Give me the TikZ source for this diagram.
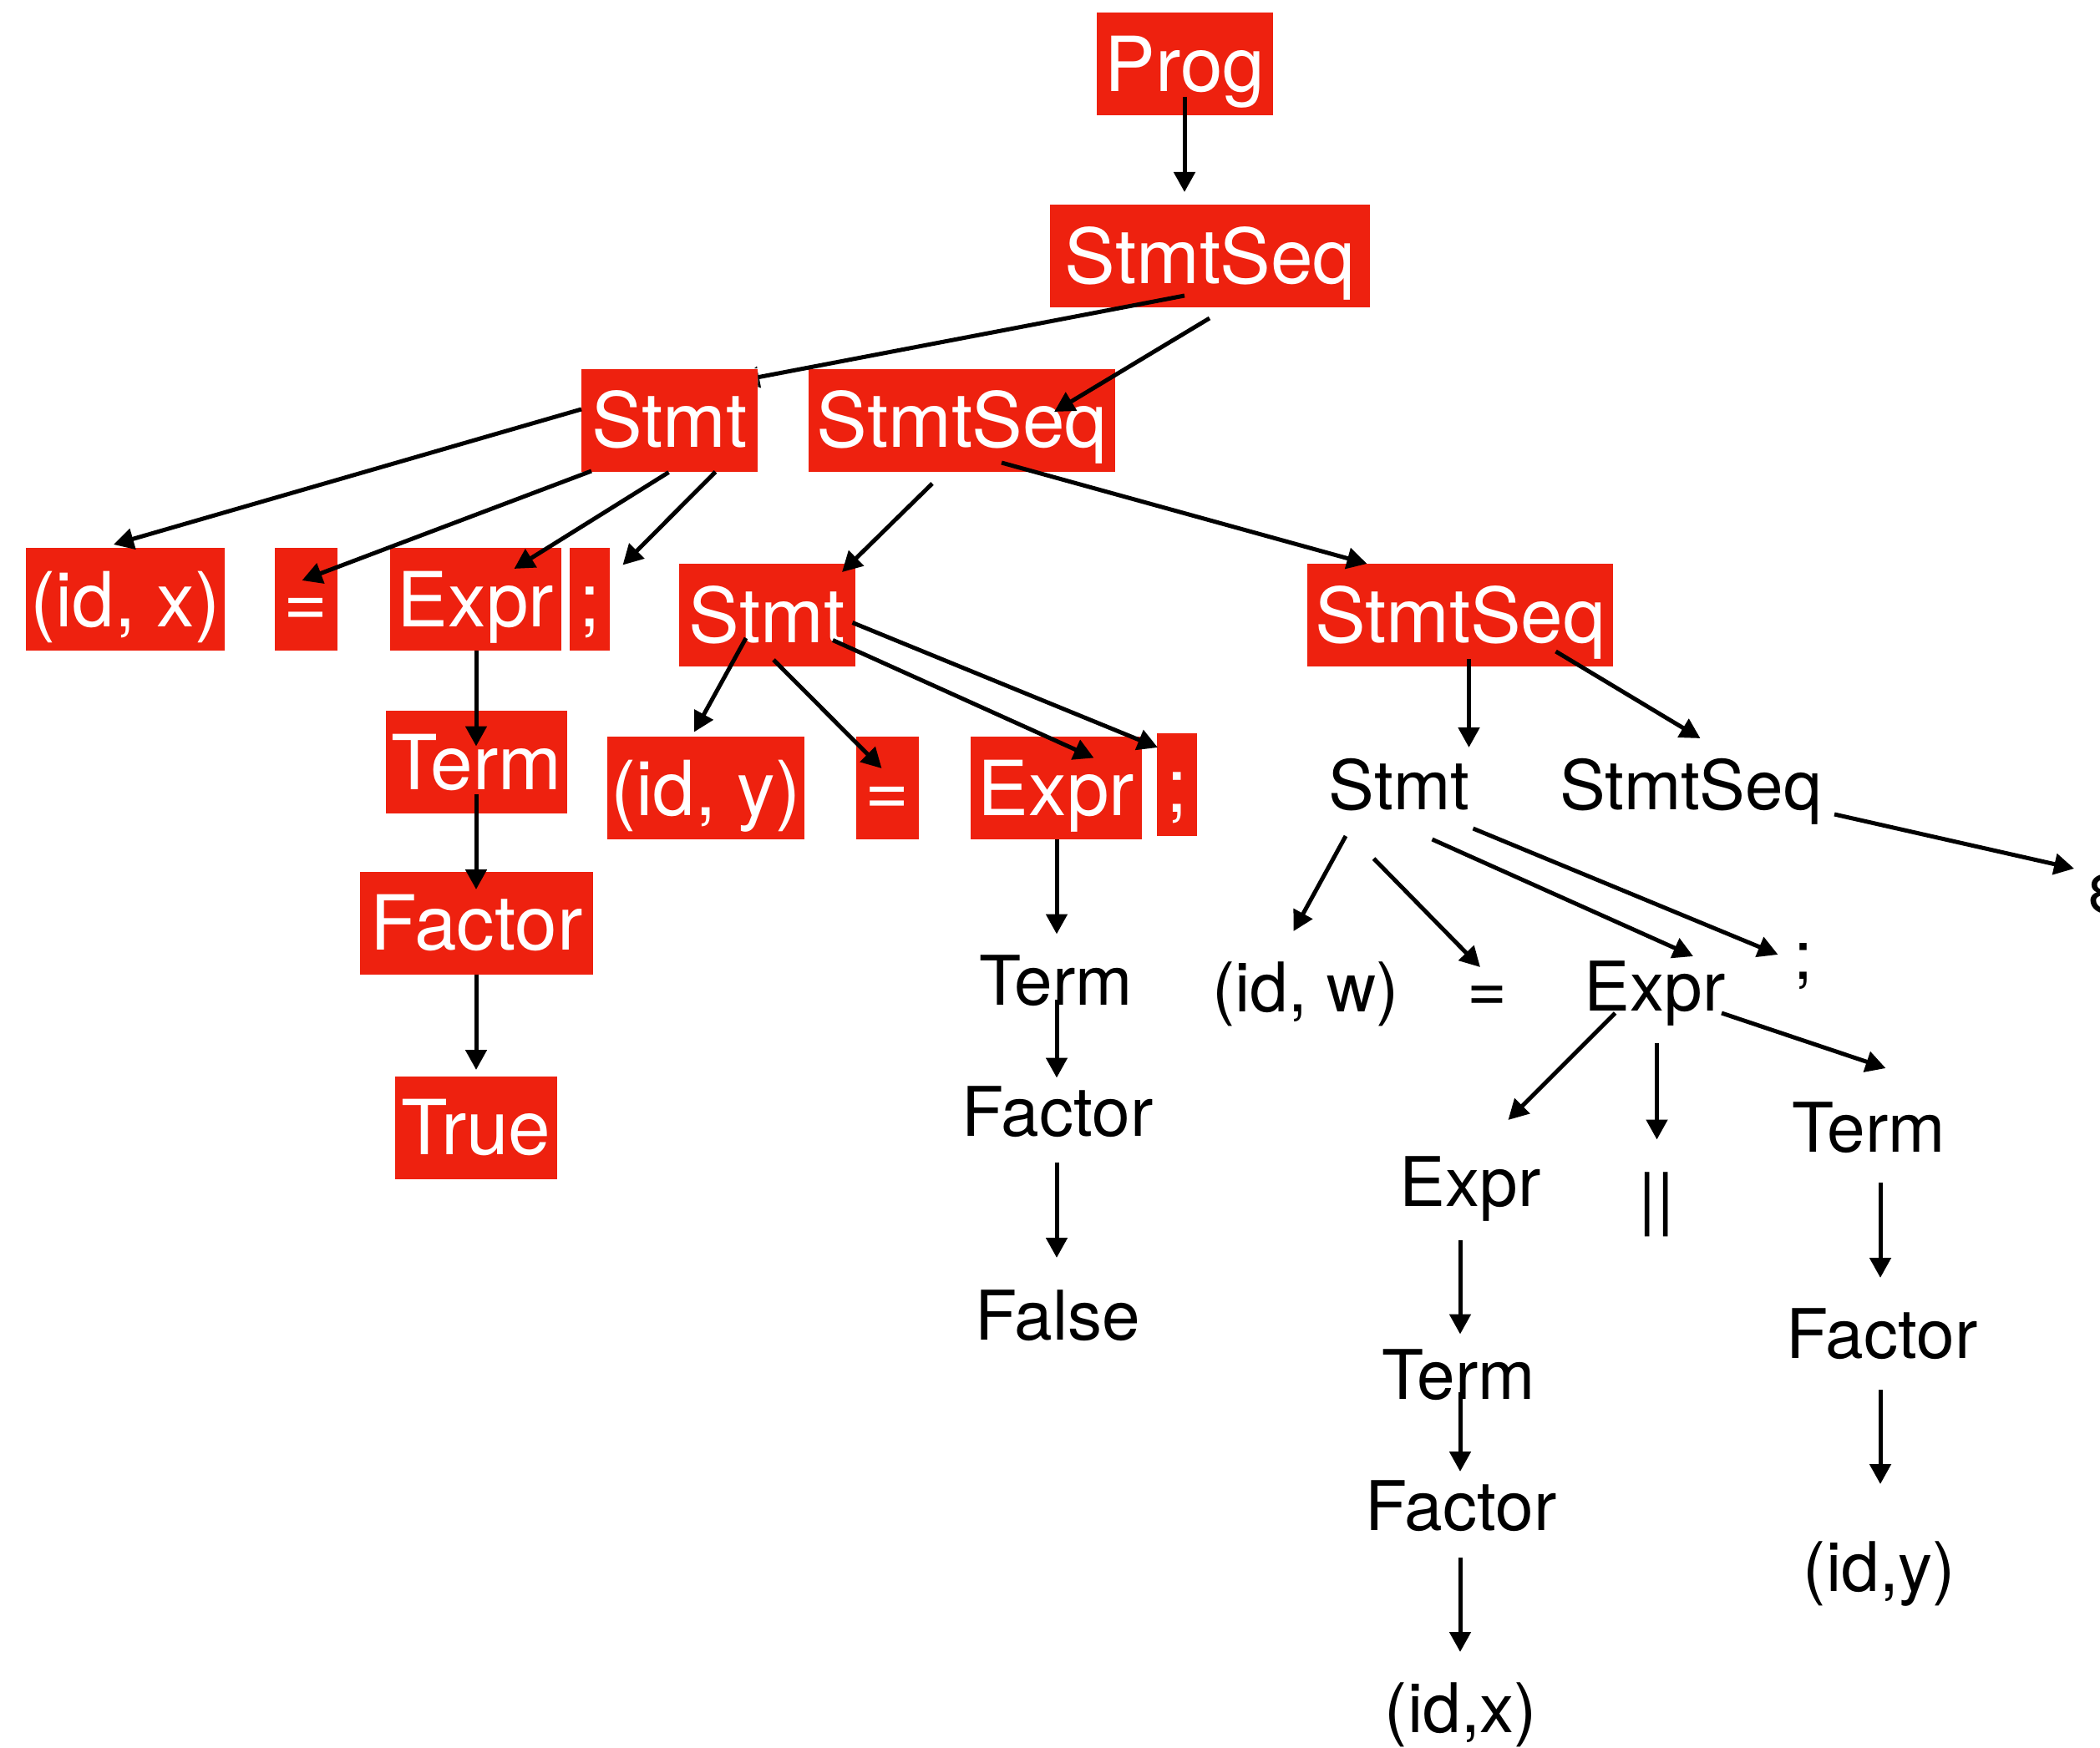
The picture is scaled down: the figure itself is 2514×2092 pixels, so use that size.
\documentclass[tikz,border=0pt]{standalone}
\usepackage{fontspec}
\setmainfont{TeX Gyre Heros}
\usetikzlibrary{calc,arrows.meta}
\definecolor{nodered}{RGB}{238,33,15}
\tikzset{
  rbox/.style={fill=nodered, text=white, inner sep=0pt, minimum height=61.5pt,
    font=\fontsize{45.5}{50}\selectfont, text height=32.7pt, text depth=0pt},
  lab/.style={inner sep=0pt, font=\fontsize{41}{46}\selectfont,
    text height=29.4pt, text depth=0pt},
  arr/.style={line width=2.5pt, -{Triangle[length=12pt,width=12.5pt]}},
}
\begin{document}
\begin{tikzpicture}[x=0.5pt, y=-0.5pt]
\useasboundingbox (0,0) rectangle (2514,2092);

% highlighted part of the parse tree
\node[rbox, minimum width=105.5pt] (prog) at (1418.5,76.5) {Prog};
\node[rbox, minimum width=191.5pt] (ssA) at (1448.5,306.5) {StmtSeq};
\node[rbox, minimum width=105.5pt] (stB) at (801.5,503) {Stmt};
\node[rbox, minimum width=183.5pt] (ssC) at (1151.5,503) {StmtSeq};
\node[rbox, minimum width=119pt] (idx) at (150,717.5) {(id, x)};
\node[rbox, minimum width=37.5pt] (eqA) at (366.5,717.5) {=};
\node[rbox, minimum width=102.5pt] (exA) at (569.5,717.5) {Expr};
\node[rbox, minimum width=24pt] (scA) at (706,717.5) {;};
\node[rbox, minimum width=105.5pt] (stD) at (918,736.5) {Stmt};
\node[rbox, minimum width=183pt] (ssE) at (1748,736.5) {StmtSeq};
\node[rbox, minimum width=108.5pt] (tmA) at (570.5,912.5) {Term};
\node[rbox, minimum width=139.5pt] (fcA) at (570.5,1105) {Factor};
\node[rbox, minimum width=97pt] (tru) at (570,1350) {True};
\node[rbox, minimum width=118pt] (idy) at (845,943.5) {(id, y)};
\node[rbox, minimum width=37.5pt] (eqB) at (1062,943.5) {=};
\node[rbox, minimum width=102.5pt] (exB) at (1264.5,943.5) {Expr};
\node[rbox, minimum width=24pt] (scB) at (1409,939.5) {;};

% plain part of the parse tree
\node[lab] (tmB) at (1264,1174) {Term};
\node[lab] (fcB) at (1266,1331) {Factor};
\node[lab] (fls) at (1266,1575.5) {False};
\node[lab] (stE) at (1675,940.5) {Stmt};
\node[lab] (ssF) at (2024,940.5) {StmtSeq};
\node[lab, anchor=base west] (eps) at (2497,1092) {ε};
\node[lab] (idw) at (1563,1182) {(id, w)};
\node[lab] (eqC) at (1780,1182) {=};
\node[lab] (exC) at (1981,1181.5) {Expr};
\node[lab] (scC) at (2159,1143.5) {;};
\node[lab] (exD) at (1760,1415) {Expr};
\node[lab] (bar) at (1983,1434) {||};
\node[lab] (tmC) at (2237,1350.5) {Term};
\node[lab] (fcC) at (2253,1597) {Factor};
\node[lab] (idyB) at (2250,1876.5) {(id,y)};
\node[lab] (tmD) at (1746,1646) {Term};
\node[lab] (fcD) at (1749,1803.5) {Factor};
\node[lab] (idxB) at (1749,2045.5) {(id,x)};

% this edge runs over its parent box but ends hidden behind the Stmt box
\begin{scope}
  \clip (0,0) -- (2514,0) -- (2514,2092) -- (0,2092) -- cycle
        (stB.north west) -- (stB.south west) -- (stB.south east) -- (stB.north east) -- cycle;
  \draw[arr] ($(ssA.center)+(-30.5,47.5)$) -- ($(stB.center)+(83.5,-47)$);
\end{scope}

\draw[arr] ($(prog.center)+(-0.5,39.5)$) -- ($(ssA.center)+(-30.5,-76.5)$);
\draw[arr] ($(ssA.center)+(-0.5,74.5)$) -- ($(ssC.center)+(110.5,-10)$);
\draw[arr] ($(stB.center)+(-105.5,-13)$) -- ($(idx.center)+(-14,-65.5)$);
\draw[arr] ($(stB.center)+(-93.5,61)$) -- ($(eqA.center)+(-5,-22.5)$);
\draw[arr] ($(stB.center)+(-1,62.5)$) -- ($(exA.center)+(46,-36.5)$);
\draw[arr] ($(stB.center)+(55,62)$) -- ($(scA.center)+(39.5,-41)$);
\draw[arr] ($(ssC.center)+(-35.5,76)$) -- ($(stD.center)+(90,-51.5)$);
\draw[arr] ($(ssC.center)+(47.5,51)$) -- ($(ssE.center)+(-111.5,-61.5)$);
\draw[arr] ($(exA.center)+(0.5,61.5)$) -- ($(tmA.center)+(-0.5,-19)$);
\draw[arr] ($(tmA.center)+(-0.5,38.5)$) -- ($(fcA.center)+(-0.5,-40)$);
\draw[arr] ($(fcA.center)+(-0.5,61.5)$) -- ($(tru.center)+(0,-69)$);
\draw[arr] ($(stD.center)+(-25,27.5)$) -- ($(idy.center)+(-14,-67)$);
\draw[arr] ($(stD.center)+(8,53.5)$) -- ($(eqB.center)+(-6.5,-23.5)$);
\draw[arr] ($(stD.center)+(79,30)$) -- ($(exB.center)+(45,-36)$);
\draw[arr] ($(stD.center)+(102.5,9)$) -- ($(scB.center)+(-23,-44.5)$);
\draw[arr] ($(exB.center)+(0.5,61.5)$) -- ($(tmB.center)+(1,-55.5)$);
\draw[arr] ($(tmB.center)+(1,22.5)$) -- ($(fcB.center)+(-1,-40.5)$);
\draw[arr] ($(fcB.center)+(-1,61)$) -- ($(fls.center)+(-1,-69.5)$);
\draw[arr] ($(ssE.center)+(10.5,52.5)$) -- ($(stE.center)+(83.5,-45.5)$);
\draw[arr] ($(ssE.center)+(114.5,43.5)$) -- ($(ssF.center)+(11.5,-56.5)$);
\draw[arr] ($(ssF.center)+(172,34.5)$) -- ($(eps.base west)+(-14,-52)$);
\draw[arr] ($(stE.center)+(-64,60.5)$) -- ($(idw.center)+(-14.5,-67)$);
\draw[arr] ($(stE.center)+(-30.5,87.5)$) -- ($(eqC.center)+(-8,-24)$);
\draw[arr] ($(stE.center)+(39.5,64.5)$) -- ($(exC.center)+(46,-36.5)$);
\draw[arr] ($(stE.center)+(88.5,51.5)$) -- ($(scC.center)+(-30.5,-0.5)$);
\draw[arr] ($(exC.center)+(-47.5,31.5)$) -- ($(exD.center)+(45.5,-74)$);
\draw[arr] ($(exC.center)+(2.5,67.5)$) -- ($(bar.center)+(0.5,-69.5)$);
\draw[arr] ($(exC.center)+(80,31.5)$) -- ($(tmC.center)+(20.5,-71.5)$);
\draw[arr] ($(exD.center)+(-12,70)$) -- ($(tmD.center)+(2,-48.5)$);
\draw[arr] ($(tmD.center)+(2,21)$) -- ($(fcD.center)+(-1,-41.5)$);
\draw[arr] ($(fcD.center)+(-1,61.5)$) -- ($(idxB.center)+(-1,-67.5)$);
\draw[arr] ($(tmC.center)+(14,65.5)$) -- ($(fcC.center)+(-2,-67)$);
\draw[arr] ($(fcC.center)+(-2,67)$) -- ($(idyB.center)+(1,-99.5)$);
\end{tikzpicture}
\end{document}
